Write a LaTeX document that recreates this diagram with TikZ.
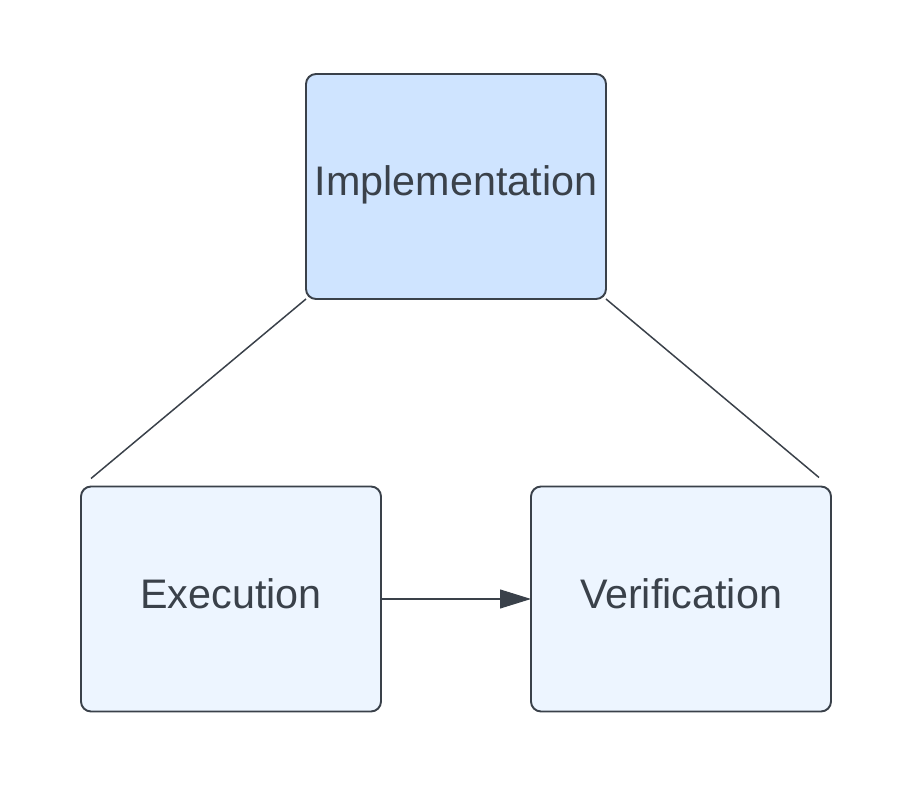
\documentclass[tikz,border=0pt]{standalone}
\usepackage{fontspec}
\setmainfont{Liberation Sans}
\usepackage{tikz}
\usetikzlibrary{arrows.meta, positioning}

\definecolor{inkgray}{HTML}{3A414A}
\definecolor{implblue}{HTML}{CFE4FF}
\definecolor{paleblue}{HTML}{EDF5FF}

\begin{document}
\begin{tikzpicture}[auto]
    % スタイル定義
    \tikzstyle{phase} = [rectangle, draw=inkgray, line width=1.1pt, fill=paleblue, text=inkgray, minimum width=6cm, minimum height=4.5cm, outer sep=0pt, rounded corners=0.2cm, text height=0.6cm, text depth=0.23cm, font=\fontsize{23.5}{28}\selectfont]
    \tikzstyle{link} = [draw=inkgray, line width=0.85pt]
    \tikzstyle{flow} = [draw=inkgray, line width=0.6pt, -{Triangle[length=0.62cm, width=0.38cm]}]

    \useasboundingbox (0,0) rectangle (18.18,15.76);

    % 配置
    \node [phase, fill=implblue] (impl) at (9.12,12.03) {Implementation};
    \node [phase] (exec) at (4.62,3.78) {Execution};
    \node [phase, right=3cm of exec] (verif) {Verification};
    \coordinate (execend) at ([shift={(0.2,0.16)}]exec.north west);
    \coordinate (verifend) at ([shift={(-0.24,0.18)}]verif.north east);

    % 線と矢印
    \path [link] (impl.south west) -- (execend);
    \path [link] (impl.south east) -- (verifend);
    \path [flow] (exec) -- (verif);
\end{tikzpicture}
\end{document}
